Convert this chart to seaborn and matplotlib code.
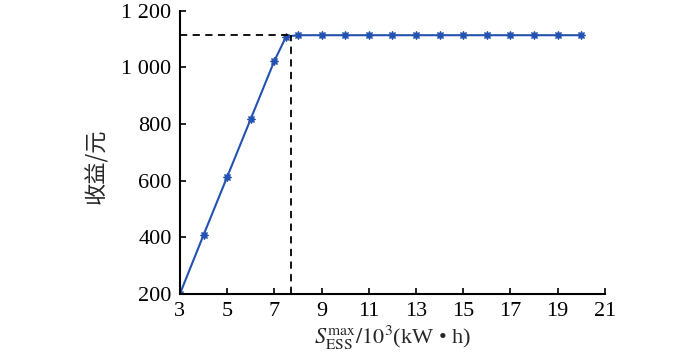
import numpy as np
import pandas as pd
import matplotlib
matplotlib.use('Agg')
import matplotlib.pyplot as plt
import seaborn as sns

# 储能容量 (10^3 kW·h) 与收益 (元)
capacity = [3, 4, 5, 6, 7, 7.5, 8, 9, 10, 11, 12, 13, 14, 15, 16, 17, 18, 19, 20]
profit = [200, 408, 613, 818, 1023, 1109, 1114, 1114, 1114, 1114, 1114, 1114,
          1114, 1114, 1114, 1114, 1114, 1114, 1114]

# 虚线标注点
mark_x = 7.7
mark_y = 1114

x_ticks = [3, 5, 7, 9, 11, 13, 15, 17, 19, 21]
y_ticks = [200, 400, 600, 800, 1000, 1200]
y_ticklabels = ['200', '400', '600', '800', '1 000', '1 200']

sns.set_theme(style='ticks')
plt.rcParams['font.family'] = ['Liberation Serif', 'DejaVu Serif']
plt.rcParams['mathtext.fontset'] = 'stix'

df = pd.DataFrame({'cap': capacity, 'profit': profit})

fig = plt.figure(figsize=(7, 3.62), dpi=100)
ax = fig.add_axes([0.257, 0.188, 0.607, 0.782])

line_color = '#2452b0'
sns.lineplot(data=df, x='cap', y='profit', ax=ax, color=line_color,
             linewidth=1.5, marker=(8, 1, 0), markersize=6,
             markeredgecolor=line_color, markerfacecolor=line_color)

ax.plot([x_ticks[0], mark_x], [mark_y, mark_y], ls=(0, (4, 3)), color='black', lw=1.3)
ax.plot([mark_x, mark_x], [y_ticks[0], mark_y], ls=(0, (4, 3)), color='black', lw=1.3)

ax.set_xlim(x_ticks[0], x_ticks[-1])
ax.set_ylim(y_ticks[0], y_ticks[-1])
ax.set_xticks(x_ticks)
ax.set_yticks(y_ticks)
ax.set_yticklabels(y_ticklabels)
ax.tick_params(direction='in', labelsize=16, width=1.2, length=4, pad=6,
               colors='black')

for side in ['top', 'right']:
    ax.spines[side].set_visible(False)
for side in ['left', 'bottom']:
    ax.spines[side].set_linewidth(1.5)
    ax.spines[side].set_color('black')

ax.set_xlabel(r'$S_{\rm ESS}^{\rm max}/10^3$(kW • h)', fontsize=16, labelpad=2)
ax.set_ylabel('收益/元', fontsize=16, family=['Noto Sans CJK SC', 'DejaVu Sans'])
ax.yaxis.set_label_coords(-0.17, 0.45)

fig.savefig('out.png', dpi=100)
